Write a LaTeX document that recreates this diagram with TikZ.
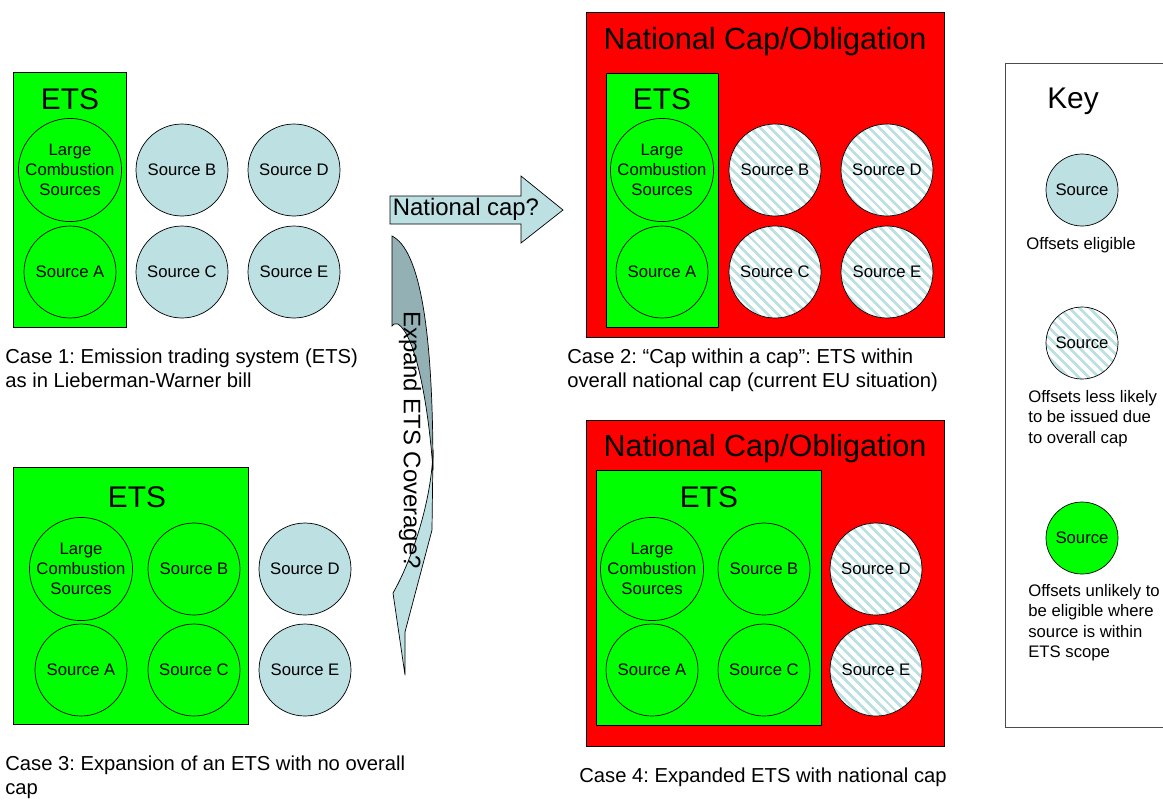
\documentclass[tikz,border=0pt]{standalone}
\usepackage{fontspec}
\setmainfont{Liberation Sans}
\usetikzlibrary{patterns.meta}
\definecolor{etsgreen}{HTML}{00FF00}
\definecolor{capred}{HTML}{FF0000}
\definecolor{srcblue}{HTML}{BDE0E3}
\definecolor{shadeblue}{HTML}{93B0B4}
\frenchspacing

\tikzset{
	src/.style={circle,draw,thin,minimum size=1.84cm,inner sep=0pt,align=center,font=\fontsize{9.5}{11.5}\selectfont},
	srcfree/.style={src,fill=srcblue},
	srcets/.style={src,fill=etsgreen},
	srccap/.style={src,preaction={fill=white},pattern={Lines[angle=-45,distance=4pt,line width=1.6pt]},pattern color=srcblue},
	keysrc/.style={minimum size=1.44cm},
	bigtxt/.style={font=\fontsize{17}{20}\selectfont},
	titletxt/.style={font=\fontsize{17.4}{20}\selectfont},
	captxt/.style={align=left,anchor=north west,inner sep=0pt,font=\fontsize{11.5}{14}\selectfont},
	keytxt/.style={align=left,anchor=north west,inner sep=0pt,font=\fontsize{9.5}{11.6}\selectfont},
	boxline/.style={draw=black,thin},
}

\begin{document}
\begin{tikzpicture}[x=0.02cm,y=-0.02cm]
					\useasboundingbox (0,0) rectangle (1163,799);

					% case 1
					\filldraw[etsgreen,boxline] (13,72) rectangle (126,327);
					\node[bigtxt] (ets1) at (70,99) {ETS};
					\node[srcets] (c1lcs) at (70,170) {Large\\Combustion\\Sources};
					\node[srcets] (c1a) at (70,272) {Source A};
					\node[srcfree] (c1b) at (182,170) {Source B};
					\node[srcfree] (c1c) at (182,272) {Source C};
					\node[srcfree] (c1d) at (294,170) {Source D};
					\node[srcfree] (c1e) at (294,272) {Source E};
					\node[captxt] (cap1) at (5,348) {Case 1: Emission trading system (ETS)\\as in Lieberman-Warner bill};

					% case 2
					\filldraw[capred,boxline] (586,12) rectangle (944,337);
					\node[titletxt] (nat2) at (765,42) {National Cap/Obligation};
					\filldraw[etsgreen,boxline] (606,73) rectangle (718,327);
					\node[bigtxt] (ets2) at (662,99) {ETS};
					\node[srcets] (c2lcs) at (662,170) {Large\\Combustion\\Sources};
					\node[srcets] (c2a) at (662,272) {Source A};
					\node[srccap] (c2b) at (775,170) {Source B};
					\node[srccap] (c2c) at (775,272) {Source C};
					\node[srccap] (c2d) at (887,170) {Source D};
					\node[srccap] (c2e) at (887,272) {Source E};
					\node[captxt] (cap2) at (567,348) {Case 2: “Cap within a cap”: ETS within\\overall national cap (current EU situation)};

					% case 3
					\filldraw[etsgreen,boxline] (13,467) rectangle (248,724);
					\node[bigtxt] (ets3) at (137,497) {ETS};
					\node[srcets] (c3lcs) at (81,569) {Large\\Combustion\\Sources};
					\node[srcets] (c3a) at (81,670) {Source A};
					\node[srcets] (c3b) at (194,569) {Source B};
					\node[srcets] (c3c) at (194,670) {Source C};
					\node[srcfree] (c3d) at (305,569) {Source D};
					\node[srcfree] (c3e) at (305,670) {Source E};
					\node[captxt] (cap3) at (5,755) {Case 3: Expansion of an ETS with no overall\\cap};

					% case 4
					\filldraw[capred,boxline] (586,420) rectangle (944,746);
					\node[titletxt] (nat4) at (765,449) {National Cap/Obligation};
					\filldraw[etsgreen,boxline] (596,470) rectangle (821,725);
					\node[bigtxt] (ets4) at (709,497) {ETS};
					\node[srcets] (c4lcs) at (652,569) {Large\\Combustion\\Sources};
					\node[srcets] (c4a) at (652,670) {Source A};
					\node[srcets] (c4b) at (764,569) {Source B};
					\node[srcets] (c4c) at (764,670) {Source C};
					\node[srccap] (c4d) at (876,569) {Source D};
					\node[srccap] (c4e) at (876,670) {Source E};
					\node[font=\fontsize{11.5}{14}\selectfont] (cap4) at (763,777) {Case 4: Expanded ETS with national cap};

					% arrows between cases
					\filldraw[srcblue,boxline] (390,196) -- (521,196) -- (521,176) -- (563,210) -- (521,243) -- (521,224) -- (390,224) -- cycle;
					\node[font=\fontsize{13.6}{16}\selectfont] (natq) at (466,209) {National cap?};
					\filldraw[shadeblue,boxline] (392,236) .. controls (420,250) and (433,330) .. (433,470) .. controls (428,400) and (415,335) .. (398,324) .. controls (395,323) and (393,324) .. (392,326) -- cycle;
					\filldraw[srcblue,boxline] (433,450) .. controls (432,500) and (412,560) .. (393,593) -- (405,675) -- (405,632) -- (432,530) -- cycle;
					\node[rotate=-90,font=\fontsize{13.6}{16}\selectfont] (expq) at (410,440) {Expand ETS Coverage?};

					% key
					\draw[black!70] (1165,63) -- (1005,63) -- (1005,727) -- (1165,727);
					\node[bigtxt] (key) at (1073,101) {Key};
					\node[srcfree,keysrc] (k1) at (1082,190) {Source};
					\node[font=\fontsize{9.5}{11.6}\selectfont] (k1txt) at (1081,245) {Offsets eligible};
					\node[srccap,keysrc] (k2) at (1082,343) {Source};
					\node[keytxt] (k2txt) at (1028,390) {Offsets less likely\\to be issued due\\to overall cap};
					\node[srcets,keysrc] (k3) at (1082,538) {Source};
					\node[keytxt] (k3txt) at (1028,584) {Offsets unlikely to\\be eligible where\\source is within\\ETS scope};
				\end{tikzpicture}
\end{document}
